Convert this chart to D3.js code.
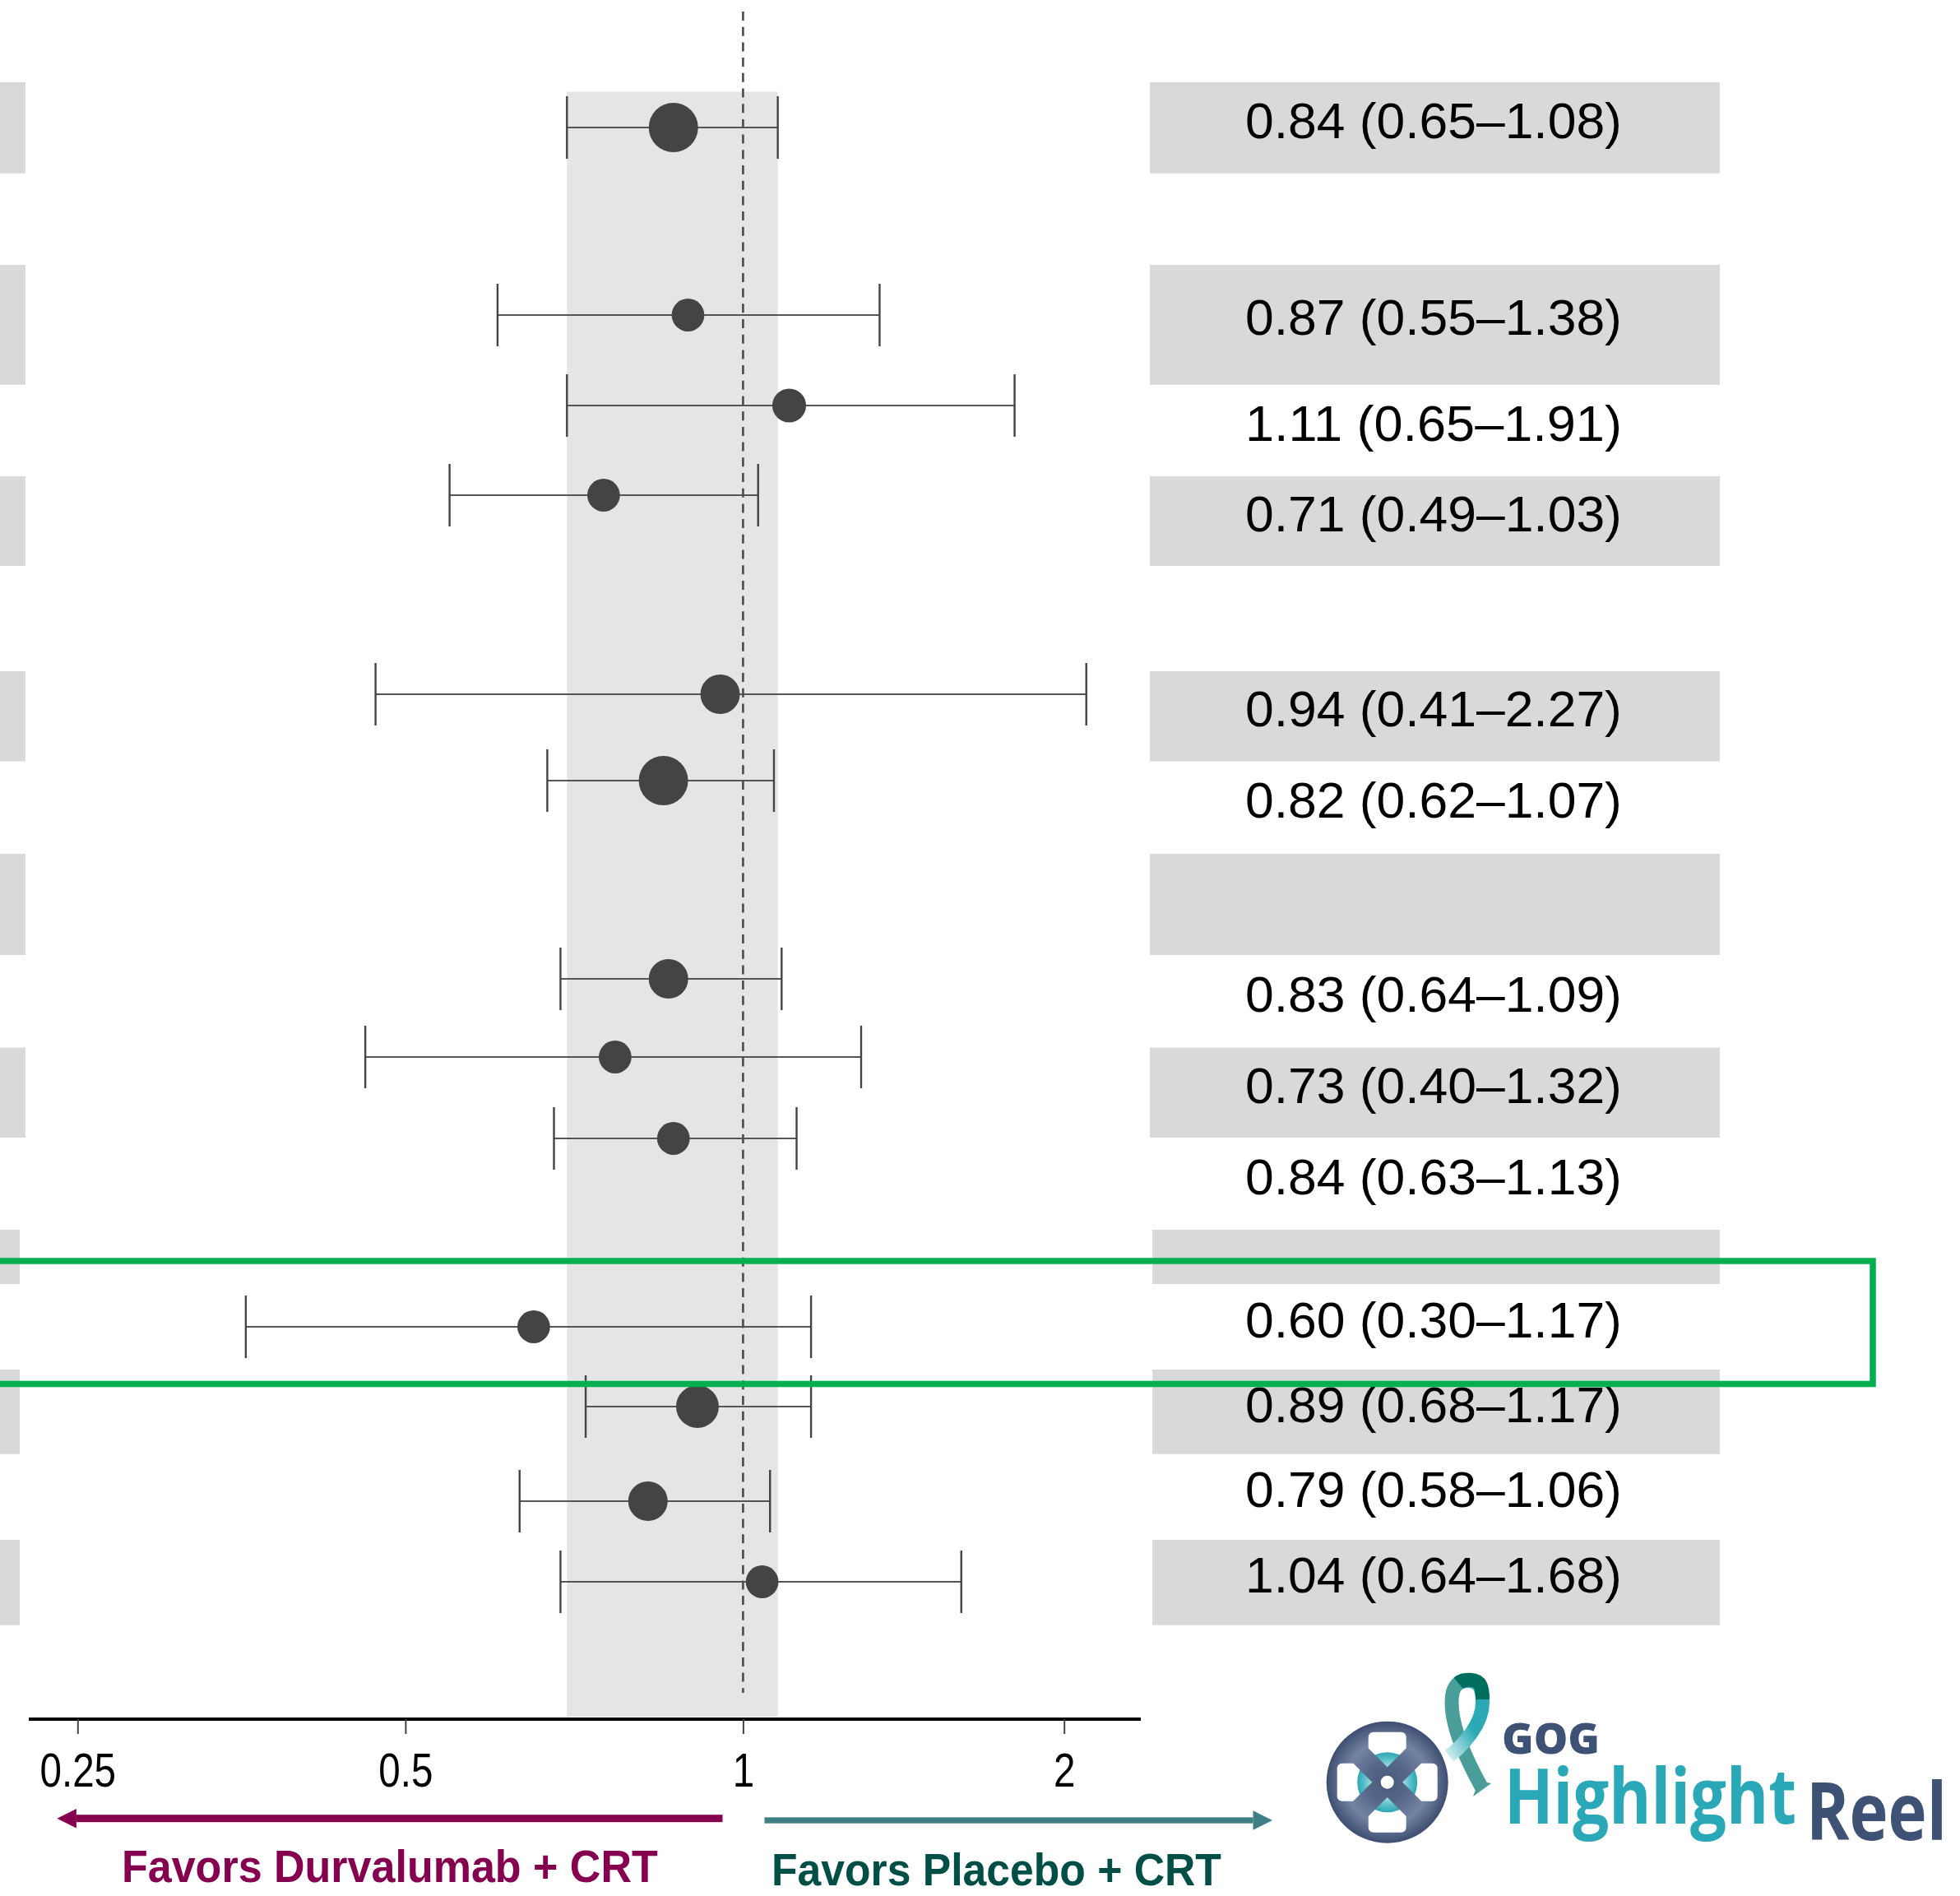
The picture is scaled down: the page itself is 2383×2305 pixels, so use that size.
<!DOCTYPE html>
<html>
<head>
<meta charset="utf-8">
<script src="https://cdn.jsdelivr.net/npm/d3@7"></script>
<style>
  html, body { margin: 0; padding: 0; background: #ffffff; }
  svg { display: block; }
</style>
</head>
<body>
<svg id="chart" width="2383" height="2305"></svg>
<script>
// ---- Subgroup estimates (hazard ratio, 95% CI) ----
const hazardRatio = [0.84, 0.87, 1.11, 0.71, 0.94, 0.82, 0.83, 0.73, 0.84, 0.60, 0.89, 0.79, 1.04];
const ciLower     = [0.65, 0.55, 0.65, 0.49, 0.41, 0.62, 0.64, 0.40, 0.63, 0.30, 0.68, 0.58, 0.64];
const ciUpper     = [1.08, 1.38, 1.91, 1.03, 2.27, 1.07, 1.09, 1.32, 1.13, 1.17, 1.17, 1.06, 1.68];
// relative subgroup weight (drives marker area)
const markerWeight = [100, 44, 47, 44, 64, 100, 64, 44, 44, 44, 75, 64, 44];
// table row holding each estimate (rows without an estimate are subgroup headers)
const tableRow = [0, 2, 3, 4, 6, 7, 9, 10, 11, 13, 14, 15, 16];
// overall estimate, shown as the shaded reference band
const overallLower = 0.65, overallUpper = 1.08;
const axisTicks = [0.25, 0.5, 1, 2];
const favorLabels = ["Favors Durvalumab + CRT", "Favors Placebo + CRT"];
const highlightedRow = 13;

// ---- Layout ----
const tableTop = 100;
const tableRowHeights = [110.7, 111.3, 145.7, 111.3, 109, 128, 109.6, 112.4, 123,
                         112.6, 109.4, 112, 66, 104, 102.7, 104.3, 103.7];
const plotFirstRow = 155;
const plotRowGaps = [114, 114, 110, 109, 121, 121, 105, 120, 121, 95, 99, 115, 114, 97, 115, 98];
const axisY = 2090;

const svg = d3.select("#chart");
const defs = svg.append("defs");

// squeeze a text horizontally so it spans `width` pixels, anchored at (x, y)
function fitText(sel, x, y, width, anchor) {
  sel.each(function () {
    const t = d3.select(this);
    const n = this.getComputedTextLength();
    const k = width / n;
    t.attr("x", 0).attr("y", 0)
     .attr("text-anchor", anchor || "start")
     .attr("transform", `translate(${x},${y}) scale(${k},1)`);
  });
}

// row geometry of the table panel
const rowEdges = [tableTop];
tableRowHeights.forEach(h => rowEdges.push(rowEdges[rowEdges.length - 1] + h));
const rowCenter = i => (rowEdges[i] + rowEdges[i + 1]) / 2;

// row centres of the forest panel
const plotCenters = [plotFirstRow];
plotRowGaps.forEach(g => plotCenters.push(plotCenters[plotCenters.length - 1] + g));

// ---- Scales ----
const x = d3.scaleLog().domain([0.25, 2]).range([206.8, 1256.8]);
const xAxisScale = d3.scaleLog().domain(axisTicks).range([94.3, 492.9, 903.4, 1293.7]);
const rScale = d3.scaleSqrt().domain([0, 100]).range([0, 30]);

const rows = hazardRatio.map((hr, i) => ({
  hr, lo: ciLower[i], hi: ciUpper[i], w: markerWeight[i], row: tableRow[i]
}));
const f2 = d3.format(".2f");

// ---- Table panel: zebra bands (right table and clipped left table edge) ----
const bandRows = d3.range(tableRowHeights.length).filter(i => i % 2 === 0);
svg.append("g").selectAll("rect")
  .data(bandRows).join("rect")
  .attr("x", i => i >= 12 ? 1401 : 1398)
  .attr("width", i => 2091 - (i >= 12 ? 1401 : 1398))
  .attr("y", i => rowEdges[i])
  .attr("height", i => rowEdges[i + 1] - rowEdges[i])
  .attr("fill", "#d9d9d9");
svg.append("g").selectAll("rect")
  .data(bandRows).join("rect")
  .attr("x", 0)
  .attr("width", i => i >= 12 ? 24 : 31)
  .attr("y", i => rowEdges[i])
  .attr("height", i => rowEdges[i + 1] - rowEdges[i])
  .attr("fill", "#d9d9d9");

// ---- Forest panel ----
const plot = svg.append("g");
plot.append("rect")
  .attr("x", x(overallLower))
  .attr("width", x(overallUpper) - x(overallLower))
  .attr("y", plotCenters[0] - 43.5)
  .attr("height", axisY - 3 - (plotCenters[0] - 43.5))
  .attr("fill", "#e5e5e5");

plot.append("line")
  .attr("x1", xAxisScale(1)).attr("x2", xAxisScale(1))
  .attr("y1", 14).attr("y2", 2058)
  .attr("stroke", "#444").attr("stroke-width", 2.5)
  .attr("stroke-dasharray", "11,7.7");

const est = plot.selectAll("g.est").data(rows).join("g")
  .attr("class", "est")
  .attr("transform", d => `translate(0,${plotCenters[d.row]})`);
est.append("line")
  .attr("x1", d => x(d.lo)).attr("x2", d => x(d.hi))
  .attr("stroke", "#555").attr("stroke-width", 1.8);
est.selectAll("line.cap").data(d => [d.lo, d.hi]).join("line")
  .attr("class", "cap")
  .attr("x1", v => x(v)).attr("x2", v => x(v))
  .attr("y1", -38).attr("y2", 38)
  .attr("stroke", "#444").attr("stroke-width", 2.4);
est.append("circle")
  .attr("cx", d => x(d.hr))
  .attr("r", d => rScale(d.w))
  .attr("fill", "#444444");

// ---- Axis ----
svg.append("line")
  .attr("x1", 35).attr("x2", 1387)
  .attr("y1", axisY).attr("y2", axisY)
  .attr("stroke", "#000").attr("stroke-width", 4);
const axisG = svg.append("g")
  .attr("transform", `translate(0,${axisY})`)
  .call(d3.axisBottom(xAxisScale).tickValues(axisTicks)
    .tickFormat(d => String(d)).tickSize(18).tickPadding(22.8));
axisG.select(".domain").remove();
axisG.selectAll(".tick line").attr("stroke", "#444").attr("stroke-width", 2);
axisG.selectAll(".tick text")
  .attr("fill", "#000")
  .style("font-family", "'Liberation Sans', Arial, sans-serif")
  .style("font-size", "58px")
  .attr("dy", null)
  .each(function () {
    const n = this.getComputedTextLength();
    d3.select(this).attr("y", 0)
      .attr("transform", `translate(0,82) scale(${0.82},1)`);
  });

// ---- Table values ----
svg.append("g").selectAll("text")
  .data(rows).join("text")
  .attr("fill", "#000")
  .style("font-family", "'Liberation Sans', Arial, sans-serif")
  .style("font-size", "61px")
  .text(d => `${f2(d.hr)} (${f2(d.lo)}\u2013${f2(d.hi)})`)
  .each(function (d) {
    fitText(d3.select(this), 1514, rowCenter(d.row) + 12.5, 458);
  });

// ---- Direction arrows ----
const arrows = [
  { from: 878.5, to: 69.4, y: 2210.7, t: 9, color: "#860050" },
  { from: 929.5, to: 1547, y: 2213, t: 7.3, color: "#3e7f86" }
];
arrows.forEach(a => {
  const dir = Math.sign(a.to - a.from);
  const back = a.to - dir * 23.5;
  svg.append("rect")
    .attr("x", Math.min(a.from, back)).attr("width", Math.abs(back - a.from))
    .attr("y", a.y - a.t / 2).attr("height", a.t)
    .attr("fill", a.color);
  svg.append("path")
    .attr("d", `M${a.to},${a.y} L${back},${a.y - 11.7} L${back},${a.y + 11.7} Z`)
    .attr("fill", a.color);
});
const favorStyle = [
  { x: 148, y: 2288.3, size: 55, len: 652, color: "#860050" },
  { x: 938, y: 2291.7, size: 56, len: 547, color: "#004f47" }
];
svg.append("g").selectAll("text")
  .data(favorLabels).join("text")
  .attr("fill", (d, i) => favorStyle[i].color)
  .style("font-family", "'Liberation Sans', Arial, sans-serif")
  .style("font-weight", "bold")
  .style("font-size", (d, i) => favorStyle[i].size + "px")
  .text(d => d)
  .each(function (d, i) {
    const s = favorStyle[i];
    fitText(d3.select(this), s.x, s.y, s.len);
  });

// ---- Highlight frame around one subgroup ----
svg.append("rect")
  .attr("x", -20)
  .attr("y", rowEdges[highlightedRow] - 28)
  .attr("width", 2277 + 20)
  .attr("height", (rowEdges[highlightedRow + 1] + 17.5) - (rowEdges[highlightedRow] - 28))
  .attr("fill", "none")
  .attr("stroke", "#00b050")
  .attr("stroke-width", 7.5);

// ---- GOG Highlight Reel logo ----
const logo = svg.append("g");
const cx = 1686.7, cy = 2166.7, R = 74;

const reelGrad = defs.append("radialGradient").attr("id", "reelGrad")
  .attr("gradientUnits", "userSpaceOnUse")
  .attr("cx", cx).attr("cy", cy).attr("r", R);
[["0%", "#4a5a7d"], ["35%", "#56678a"], ["68%", "#7383a2"], ["100%", "#3d4e72"]]
  .forEach(([o, c]) => reelGrad.append("stop").attr("offset", o).attr("stop-color", c));

const hubGrad = defs.append("radialGradient").attr("id", "hubGrad")
  .attr("gradientUnits", "userSpaceOnUse")
  .attr("cx", cx).attr("cy", cy).attr("r", 37);
[["0%", "#ffffff"], ["35%", "#d3eff1"], ["75%", "#5cc0c9"], ["100%", "#2aa5b3"]]
  .forEach(([o, c]) => hubGrad.append("stop").attr("offset", o).attr("stop-color", c));

const holes = [[0, -38], [0, 38], [-38, 0], [38, 0]];
const holeClip = defs.append("clipPath").attr("id", "holeClip");
holes.forEach(([dx, dy]) => holeClip.append("rect")
  .attr("x", cx + dx - 23).attr("y", cy + dy - 23)
  .attr("width", 46).attr("height", 46).attr("rx", 6));

logo.append("circle").attr("cx", cx).attr("cy", cy).attr("r", R).attr("fill", "url(#reelGrad)");
holes.forEach(([dx, dy]) => logo.append("rect")
  .attr("x", cx + dx - 23).attr("y", cy + dy - 23)
  .attr("width", 46).attr("height", 46).attr("rx", 6)
  .attr("fill", "#ffffff"));
logo.append("circle").attr("cx", cx).attr("cy", cy).attr("r", 36.5)
  .attr("fill", "url(#hubGrad)").attr("clip-path", "url(#holeClip)");
[45, -45].forEach(a => logo.append("rect")
  .attr("x", cx - 13).attr("y", cy - 62)
  .attr("width", 26).attr("height", 124)
  .attr("transform", `rotate(${a},${cx},${cy})`)
  .attr("fill", "url(#reelGrad)"));
logo.append("circle").attr("cx", cx).attr("cy", cy).attr("r", 8).attr("fill", "#ffffff");

// awareness ribbon
const fadeGrad = defs.append("linearGradient").attr("id", "ribbonFade")
  .attr("gradientUnits", "userSpaceOnUse")
  .attr("x1", 1792).attr("y1", 2105).attr("x2", 1756).attr("y2", 2130);
fadeGrad.append("stop").attr("offset", "0%").attr("stop-color", "#2ba9b7");
fadeGrad.append("stop").attr("offset", "100%").attr("stop-color", "#d7f0f1");
logo.append("path")
  .attr("d", "M1785,2043.5 C1770,2043.5 1765,2053 1765,2070 C1765,2100 1783,2140 1802,2174")
  .attr("fill", "none").attr("stroke", "#4a9e9a").attr("stroke-width", 17);
logo.append("path")
  .attr("d", "M1785,2043.5 C1799,2043.5 1802.5,2053 1802.5,2070 C1802.5,2095 1781,2120 1762,2135")
  .attr("fill", "none").attr("stroke", "url(#ribbonFade)").attr("stroke-width", 17);
logo.append("path")
  .attr("d", "M1773,2046 C1779,2041 1796,2040 1800,2049 C1802.5,2054 1802.5,2060 1802.5,2066")
  .attr("fill", "none").attr("stroke", "#006e5e").attr("stroke-width", 17);
logo.append("path")
  .attr("d", "M1791,2184 L1798,2165 L1813,2168 Z")
  .attr("fill", "#4a9e9a");

const logoFont = "'Open Sans', Lato, sans-serif";
const logoTexts = [
  { t: "GOG", x: 1826, y: 2132, w: 119, size: 52, weight: 800, color: "#3d5275" },
  { t: "Highlight", x: 1829, y: 2216.7, w: 355, size: 93, weight: 700, color: "#2ba8b8" },
  { t: "Reel", x: 2196, y: 2237.3, w: 171, size: 97, weight: 700, color: "#3d5275" }
];
logoTexts.forEach(s => {
  logo.append("text")
    .style("font-family", logoFont).style("font-weight", s.weight)
    .style("font-size", s.size + "px")
    .attr("fill", s.color).text(s.t)
    .call(sel => fitText(sel, s.x, s.y, s.w));
});
</script>
</body>
</html>
